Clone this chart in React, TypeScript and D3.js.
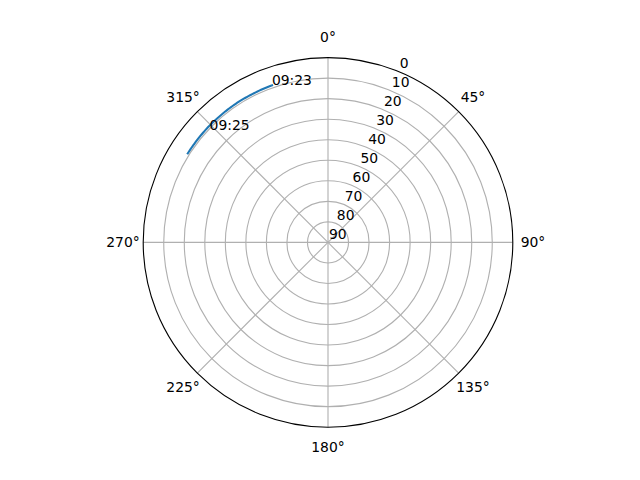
import React from "react";
import * as d3 from "d3";

// Satellite pass (sky plot): azimuth in degrees clockwise from north, elevation in degrees
const passTimes = ["09:23:00", "09:23:30", "09:24:00", "09:24:30", "09:25:00", "09:25:30", "09:25:50"];
const passAzimuth = [340.4, 333.6, 327.0, 320.4, 313.9, 307.3, 302.4];
const passElevation = [8.8, 8.9, 8.9, 9.0, 9.0, 9.1, 9.1];

// Time annotations
const labelText = ["09:23", "09:25"];
const labelAzimuth = [340.4, 313.5];
const labelElevation = [8.6, 10.5];

// Axis ticks
const thetaTicks = [0, 45, 90, 135, 180, 225, 270, 315];
const radialTicks = [0, 10, 20, 30, 40, 50, 60, 70, 80, 90];

const W = 640;
const H = 480;
const cx = 328;
const cy = 242.4;
const R = 184.8;
const FONT = "'DejaVu Sans', sans-serif";
const FS = 13.9;

export default function App() {
  // elevation 90 at centre, 0 at rim
  const r = d3.scaleLinear().domain([90, 0]).range([0, R]);
  const toXY = (azDeg: number, el: number): [number, number] => {
    const a = (azDeg * Math.PI) / 180;
    const rr = r(el);
    return [cx + rr * Math.sin(a), cy - rr * Math.cos(a)];
  };

  // interpolate in polar space between samples (like a polar axes does)
  const pts: [number, number][] = [];
  for (let i = 0; i < passAzimuth.length; i++) {
    if (i === 0) {
      pts.push(toXY(passAzimuth[0], passElevation[0]));
      continue;
    }
    const steps = 10;
    for (let k = 1; k <= steps; k++) {
      const f = k / steps;
      const az = passAzimuth[i - 1] + (passAzimuth[i] - passAzimuth[i - 1]) * f;
      const el = passElevation[i - 1] + (passElevation[i] - passElevation[i - 1]) * f;
      pts.push(toXY(az, el));
    }
  }
  const line = d3.line<[number, number]>()(pts) || "";

  const rlabelAngle = 22.5;
  const gridW = 1.11;

  return (
    <svg
      width={W}
      height={H}
      style={{ position: "absolute", left: 0, top: 0, background: "#fff" }}
      fontFamily={FONT}
      fontSize={FS}
      data-times={passTimes.join(",")}
    >
      <rect x={0} y={0} width={W} height={H} fill="#fff" />
      {/* grid rings */}
      {radialTicks
        .filter((t) => t > 0 && t < 90)
        .map((t) => (
          <circle key={"ring" + t} cx={cx} cy={cy} r={r(t)} fill="none" stroke="#b0b0b0" strokeWidth={gridW} />
        ))}
      {/* spokes */}
      {thetaTicks.map((t) => {
        const [x, y] = toXY(t, 0);
        return <line key={"sp" + t} x1={cx} y1={cy} x2={x} y2={y} stroke="#b0b0b0" strokeWidth={gridW} />;
      })}
      {/* data line */}
      <path d={line} fill="none" stroke="#1f77b4" strokeWidth={2.08} strokeLinecap="square" />
      {/* annotations */}
      {labelText.map((t, i) => {
        const [x, y] = toXY(labelAzimuth[i], labelElevation[i]);
        return (
          <text key={"lab" + i} x={x} y={y} fill="#000">
            {t}
          </text>
        );
      })}
      {/* spine */}
      <circle cx={cx} cy={cy} r={R} fill="none" stroke="#000" strokeWidth={gridW} />
      {/* theta labels */}
      {thetaTicks.map((t) => {
        const a = (t * Math.PI) / 180;
        const rr = 205;
        return (
          <text
            key={"th" + t}
            x={cx + rr * Math.sin(a)}
            y={cy - rr * Math.cos(a)}
            textAnchor="middle"
            dominantBaseline="central"
            fill="#000"
          >
            {t + "°"}
          </text>
        );
      })}
      {/* radial labels */}
      {radialTicks.map((t) => {
        const [x, y] = toXY(rlabelAngle, t);
        return (
          <text key={"rl" + t} x={x + 1} y={y - 3.4} fill="#000">
            {t}
          </text>
        );
      })}
    </svg>
  );
}
